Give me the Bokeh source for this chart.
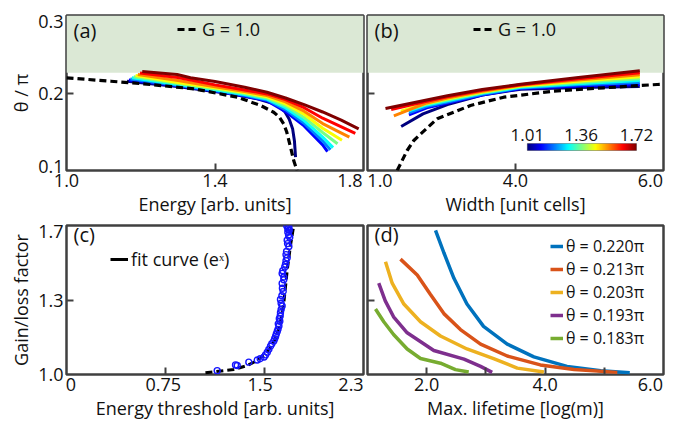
import numpy as np
from bokeh.plotting import figure
from bokeh.layouts import column, row
from bokeh.models import Range1d, FixedTicker, BoxAnnotation, Label, LinearColorMapper
from bokeh.core.properties import value
from bokeh.embed import file_html
from bokeh.resources import INLINE

# ---------------- data ----------------
G_LEVELS = [1.01, 1.10, 1.19, 1.28, 1.36, 1.45, 1.54, 1.63, 1.72]
G_MIN, G_MAX = 1.01, 1.72
CB_TICKS = [1.01, 1.36, 1.72]
BAND_MIN = 0.226  # theta/pi above which the region is shaded

# panel (a): theta/pi vs energy
A_G1_X = [1.0, 1.119, 1.208, 1.343, 1.46, 1.523, 1.558, 1.573, 1.585, 1.593, 1.599, 1.606,
          1.612, 1.621]
A_G1_Y = [0.2196, 0.2152, 0.2118, 0.2054, 0.1946, 0.1839, 0.1752, 0.1690, 0.1602, 0.1500,
          0.1387, 0.1250, 0.1129, 0.1]
A_X = [
    [1.163, 1.298, 1.433, 1.514, 1.550, 1.572, 1.588, 1.600, 1.609, 1.614, 1.617],
    [1.168, 1.30, 1.40, 1.48, 1.54, 1.59, 1.64, 1.69, 1.703],
    [1.172, 1.30, 1.40, 1.48, 1.54, 1.59, 1.64, 1.69, 1.711],
    [1.176, 1.30, 1.40, 1.48, 1.54, 1.59, 1.64, 1.69, 1.718],
    [1.181, 1.30, 1.40, 1.48, 1.54, 1.59, 1.64, 1.69, 1.730],
    [1.186, 1.30, 1.40, 1.48, 1.54, 1.59, 1.64, 1.69, 1.742],
    [1.192, 1.30, 1.40, 1.48, 1.54, 1.59, 1.64, 1.69, 1.762],
    [1.198, 1.30, 1.40, 1.48, 1.54, 1.59, 1.64, 1.69, 1.778],
    [1.204, 1.298, 1.334, 1.40, 1.48, 1.54, 1.59, 1.64, 1.69, 1.74, 1.787],
]
A_Y = [
    [0.2152, 0.2084, 0.1998, 0.1925, 0.1875, 0.1830, 0.1760, 0.1660, 0.1540, 0.1380, 0.1172],
    [0.2168, 0.2092, 0.2025, 0.1962, 0.1900, 0.1760, 0.1575, 0.1330, 0.1245],
    [0.2182, 0.2100, 0.2033, 0.1970, 0.1910, 0.1785, 0.1610, 0.1380, 0.1267],
    [0.2196, 0.2110, 0.2042, 0.1980, 0.1922, 0.1810, 0.1645, 0.1430, 0.1295],
    [0.2210, 0.2122, 0.2053, 0.1992, 0.1935, 0.1835, 0.1685, 0.1490, 0.1345],
    [0.2225, 0.2136, 0.2066, 0.2005, 0.1950, 0.1860, 0.1725, 0.1545, 0.1390],
    [0.2240, 0.2160, 0.2082, 0.2020, 0.1967, 0.1885, 0.1765, 0.1605, 0.1430],
    [0.2258, 0.2200, 0.2105, 0.2040, 0.1988, 0.1915, 0.1810, 0.1675, 0.1480],
    [0.2277, 0.2239, 0.2196, 0.2148, 0.2075, 0.2010, 0.1935, 0.1850, 0.1755, 0.1650, 0.1538],
]

# panel (b): theta/pi vs width
B_G1_X = [2.401, 2.536, 2.626, 2.716, 2.942, 3.392, 3.842, 4.518, 5.194, 5.915, 6.0]
B_G1_Y = [0.1, 0.1258, 0.1387, 0.147, 0.1667, 0.1839, 0.1946, 0.2024, 0.2067, 0.2110, 0.2112]
B_X = [
    [2.455, 2.75, 3.08, 3.55, 4.07, 4.85, 5.68],
    [2.56, 2.80, 3.08, 3.55, 4.07, 4.85, 5.68],
    [2.56, 2.80, 3.08, 3.55, 4.07, 4.85, 5.68],
    [2.56, 2.80, 3.08, 3.55, 4.07, 4.85, 5.68],
    [2.52, 2.80, 3.08, 3.55, 4.07, 4.85, 5.68],
    [2.45, 2.80, 3.08, 3.55, 4.07, 4.85, 5.68],
    [2.356, 2.80, 3.08, 3.55, 4.07, 4.85, 5.68],
    [2.32, 2.80, 3.08, 3.55, 4.07, 4.85, 5.68],
    [2.243, 2.80, 3.08, 3.55, 4.07, 4.85, 5.68],
]
B_Y = [
    [0.1568, 0.1730, 0.1850, 0.1975, 0.2049, 0.2072, 0.2084],
    [0.1719, 0.1808, 0.1870, 0.1975, 0.2058, 0.2090, 0.2110],
    [0.1745, 0.1828, 0.1885, 0.1985, 0.2066, 0.2105, 0.2135],
    [0.1770, 0.1846, 0.1900, 0.1995, 0.2075, 0.2120, 0.2160],
    [0.1775, 0.1858, 0.1912, 0.2004, 0.2083, 0.2136, 0.2185],
    [0.1765, 0.1868, 0.1925, 0.2014, 0.2091, 0.2152, 0.2210],
    [0.1706, 0.1872, 0.1935, 0.2023, 0.2099, 0.2168, 0.2235],
    [0.1785, 0.1892, 0.1950, 0.2034, 0.2106, 0.2184, 0.2260],
    [0.1800, 0.1910, 0.1964, 0.2045, 0.2114, 0.2200, 0.2286],
]

# panel (c): gain/loss factor vs energy threshold
C_PTS_X = [1.167, 1.309, 1.322, 1.412, 1.477, 1.50, 1.53, 1.541, 1.555, 1.567, 1.58, 1.59,
           1.605, 1.612, 1.619, 1.625, 1.632, 1.638, 1.645, 1.64, 1.652, 1.648, 1.655, 1.657,
           1.662, 1.67, 1.662, 1.657, 1.668, 1.678, 1.672, 1.67, 1.683, 1.683, 1.67, 1.675,
           1.69, 1.696, 1.70, 1.709, 1.70, 1.704, 1.722, 1.712, 1.709, 1.729, 1.72, 1.714,
           1.725, 1.714, 1.722, 1.706]
C_PTS_Y = [1.018, 1.045, 1.042, 1.058, 1.068, 1.074, 1.082, 1.092, 1.105, 1.118, 1.133, 1.145,
           1.157, 1.168, 1.179, 1.19, 1.202, 1.212, 1.228, 1.238, 1.25, 1.262, 1.275, 1.29,
           1.305, 1.322, 1.335, 1.352, 1.37, 1.39, 1.405, 1.428, 1.445, 1.458, 1.475, 1.488,
           1.505, 1.518, 1.535, 1.548, 1.563, 1.578, 1.601, 1.615, 1.631, 1.645, 1.654, 1.668,
           1.678, 1.684, 1.691, 1.698]
C_FIT_X = [1.076, 1.296, 1.40, 1.477, 1.53, 1.58, 1.615, 1.645, 1.665, 1.683, 1.709, 1.735, 1.76]
C_FIT_Y = [1.008, 1.024, 1.042, 1.066, 1.092, 1.126, 1.165, 1.217, 1.27, 1.337, 1.488, 1.608, 1.70]

# panel (d): gain/loss factor vs max. lifetime
D_LABELS = ["θ = 0.220π", "θ = 0.213π", "θ = 0.203π", "θ = 0.193π", "θ = 0.183π"]
D_COLORS = ["#0072BD", "#D95319", "#EDB120", "#7E2F8E", "#77AC30"]
D_X = [
    [2.149, 2.29, 2.46, 2.68, 2.96, 3.36, 3.81, 4.37, 4.94, 5.43],
    [1.557, 1.84, 2.064, 2.29, 2.57, 2.91, 3.36, 3.92, 4.49, 5.22],
    [1.304, 1.417, 1.614, 1.895, 2.233, 2.68, 3.13, 3.53, 3.98],
    [1.19, 1.30, 1.44, 1.67, 2.12, 2.63, 2.91, 3.106],
    [1.135, 1.275, 1.44, 1.67, 1.895, 2.233, 2.486, 2.71],
]
D_Y = [
    [1.677, 1.572, 1.452, 1.331, 1.226, 1.143, 1.083, 1.038, 1.018, 1.008],
    [1.542, 1.467, 1.376, 1.286, 1.211, 1.143, 1.087, 1.045, 1.023, 1.010],
    [1.530, 1.429, 1.331, 1.248, 1.181, 1.120, 1.075, 1.030, 1.012],
    [1.429, 1.346, 1.271, 1.196, 1.113, 1.072, 1.038, 1.010],
    [1.308, 1.248, 1.188, 1.120, 1.075, 1.053, 1.023, 1.012],
]

# axis ticks / labels
A_XTICKS, A_XLABELS = [1.0, 1.4, 1.8], ["1.0", "1.4", "1.8"]
AB_YTICKS, AB_YLABELS = [0.1, 0.2, 0.3], ["0.1", "0.2", "0.3"]
B_XTICKS, B_XLABELS = [2.0, 4.0, 6.0], ["1.0", "4.0", "6.0"]
C_XTICKS, C_XLABELS = [0.0, 0.75, 1.5, 2.3], ["0", "0.75", "1.5", "2.3"]
C_XMARKS = [0.767, 1.533]
CD_YTICKS, CD_YLABELS = [1.0, 1.35, 1.7], ["1.0", "1.3", "1.7"]
D_XTICKS, D_XLABELS = [2.0, 4.0, 6.0], ["2.0", "4.0", "6.0"]
D_XMARKS = [2.0, 3.0, 4.0, 5.0]

# ---------------- style ----------------
FONT = "Open Sans"
FRAME = "#404040"
TXT = "#111111"
BAND = "#dbe8d5"
FW, FH = 296, 155  # frame size in px


def jet(t):
    t = min(max(t, 0.0), 1.0)
    r = min(max(1.5 - abs(4 * t - 3), 0), 1)
    g = min(max(1.5 - abs(4 * t - 2), 0), 1)
    b = min(max(1.5 - abs(4 * t - 1), 0), 1)
    return "#%02x%02x%02x" % (int(r * 255), int(g * 255), int(b * 255))


JET = [jet(i / 255) for i in range(256)]


def gcolor(g):
    return jet((g - G_MIN) / (G_MAX - G_MIN))


def make_fig(xr, yr, width, height, left, right, top, bottom):
    p = figure(width=width, height=height, x_range=Range1d(*xr), y_range=Range1d(*yr),
               output_backend="svg", toolbar_location=None,
               min_border_left=left, min_border_right=right,
               min_border_top=top, min_border_bottom=bottom)
    p.grid.visible = False
    p.outline_line_color = FRAME
    p.outline_line_width = 2.5
    p.outline_line_alpha = 1.0
    p.background_fill_color = "white"
    p.border_fill_color = "white"
    return p


def style_axis(ax, rng, ticks, labels, shifts_px, marks, title=None, frame_px=FW):
    scale = (rng[1] - rng[0]) / frame_px
    pos = [round(t + s * scale, 6) for t, s in zip(ticks, shifts_px)]
    ax.ticker = FixedTicker(ticks=pos, minor_ticks=marks)
    ax.major_label_overrides = dict(zip(pos, labels))
    ax.major_tick_in = 0
    ax.major_tick_out = 0
    ax.minor_tick_in = 7
    ax.minor_tick_out = 0
    ax.minor_tick_line_color = FRAME
    ax.minor_tick_line_width = 2
    ax.axis_line_color = None
    ax.major_label_text_font = FONT
    ax.major_label_text_font_size = "18px"
    ax.major_label_text_color = TXT
    ax.major_label_standoff = 3 if labels else 0
    if title:
        ax.axis_label = title
        ax.axis_label_text_font = FONT
        ax.axis_label_text_font_size = "18px"
        ax.axis_label_text_font_style = "normal"
        ax.axis_label_text_color = TXT
        ax.axis_label_standoff = 2


def tag(p, text):
    p.add_layout(Label(x=7, y=FH - 15, x_units="screen", y_units="screen", text=text,
                       text_font=FONT, text_font_size="20px", text_color=TXT,
                       text_baseline="middle"))


def style_legend(p, loc, size, gw, gh=20, spacing=0):
    leg = p.legend[0]
    leg.location = loc
    leg.padding = 0
    leg.margin = 0
    leg.spacing = spacing
    leg.border_line_color = None
    leg.background_fill_alpha = 0
    leg.glyph_width = gw
    leg.glyph_height = gh
    leg.label_height = gh
    leg.label_standoff = 3
    leg.label_text_font = FONT
    leg.label_text_font_size = size
    leg.label_text_color = TXT


# page offset: Bokeh's page has no body margin, so reserve it in the borders
OFF = 8

# ---------------- (a) ----------------
AXR, AYR = (1.0, 1.8), (0.1, 0.3)
pa = make_fig(AXR, AYR, 357 + OFF, 210 + OFF, 58 + OFF, 2, 7 + OFF, 48)
pa.add_layout(BoxAnnotation(bottom=BAND_MIN, fill_color=BAND, fill_alpha=1.0,
                            line_alpha=0, level="underlay"))
for g, xs, ys in zip(G_LEVELS, A_X, A_Y):
    pa.line(xs, ys, line_color=gcolor(g), line_width=3)
pa.line(A_G1_X, A_G1_Y, line_color="black", line_width=3.2, line_dash="7 4",
        legend_label="G = 1.0")
style_axis(pa.xaxis[0], AXR, A_XTICKS, A_XLABELS, [0, 0, -13.5], [1.4],
           "Energy [arb. units]", FW + 1)
style_axis(pa.yaxis[0], AYR, AB_YTICKS, AB_YLABELS, [4, 0, -6], [0.2], "θ / π", FH)
style_legend(pa, (111, 129), "18px", 22)
tag(pa, "(a)")

# ---------------- (b) ----------------
BXR = (2.0, 6.0)
pb = make_fig(BXR, AYR, 313, 210 + OFF, 2, 15, 7 + OFF, 48)
pb.add_layout(BoxAnnotation(bottom=BAND_MIN, fill_color=BAND, fill_alpha=1.0,
                            line_alpha=0, level="underlay"))
for g, xs, ys in zip(G_LEVELS, B_X, B_Y):
    pb.line(xs, ys, line_color=gcolor(g), line_width=3)
pb.line(B_G1_X, B_G1_Y, line_color="black", line_width=3.2, line_dash="7 4",
        legend_label="G = 1.0")
style_axis(pb.xaxis[0], BXR, B_XTICKS, B_XLABELS, [12.5, 0, -13], [4.0],
           "Width [unit cells]")
style_axis(pb.yaxis[0], AYR, [], [], [], [0.2], None, FH)
style_legend(pb, (106, 129), "18px", 22)
tag(pb, "(b)")
# colour bar (inside panel b)
CB_X0, CB_W, CB_Y0, CB_H = 4.16, 1.475, 0.1258, 0.009
cmap = LinearColorMapper(palette=JET, low=G_MIN, high=G_MAX)
grad = np.linspace(G_MIN, G_MAX, 256).reshape(1, 256)
pb.image(image=[grad], x=CB_X0, y=CB_Y0, dw=CB_W, dh=CB_H, color_mapper=cmap)
pb.add_layout(BoxAnnotation(left=CB_X0, right=CB_X0 + CB_W, bottom=CB_Y0, top=CB_Y0 + CB_H,
                            fill_alpha=0, line_color="black", line_width=1))
cb_lx = [CB_X0 + (g - G_MIN) / (G_MAX - G_MIN) * CB_W for g in CB_TICKS]
pb.text(x=cb_lx, y=[CB_Y0 + CB_H + 0.0035] * len(CB_TICKS),
        text=["%.2f" % g for g in CB_TICKS], text_font=value(FONT), text_font_size="17px",
        text_color=TXT, text_align="center", text_baseline="bottom")

# ---------------- (c) ----------------
CXR, CYR = (0.0, 2.3), (1.0, 1.7)
pc = make_fig(CXR, CYR, 357 + OFF, 204, 58 + OFF, 2, 7, 42)
pc.line(C_FIT_X, C_FIT_Y, line_color="black", line_width=3, line_dash="7 4")
pc.scatter(C_PTS_X, C_PTS_Y, marker="circle", size=6, fill_alpha=0,
           line_color="#1515ff", line_width=1.4)
pc.line(x=[np.nan], y=[np.nan], line_color="black", line_width=3,
        legend_label="fit curve (eˣ)")
style_axis(pc.xaxis[0], CXR, C_XTICKS, C_XLABELS, [4.5, 0, 0, -12.5], C_XMARKS,
           "Energy threshold [arb. units]", FW + 1)
style_axis(pc.yaxis[0], CYR, CD_YTICKS, CD_YLABELS, [0, 0, -6], [1.35],
           "Gain/loss factor", FH)
style_legend(pc, (44, 103), "18px", 18)
tag(pc, "(c)")

# ---------------- (d) ----------------
DXR = (1.0, 6.0)
pd_ = make_fig(DXR, CYR, 313, 204, 2, 15, 7, 42)
for lab, col, xs, ys in zip(D_LABELS, D_COLORS, D_X, D_Y):
    pd_.line(xs, ys, line_color=col, line_width=3.5, legend_label=lab)
style_axis(pd_.xaxis[0], DXR, D_XTICKS, D_XLABELS, [0, 0, -13], D_XMARKS,
           "Max. lifetime [log(m)]")
style_axis(pd_.yaxis[0], CYR, [], [], [], [1.35], None, FH)
style_legend(pd_, (183, 25), "16px", 13, gh=20, spacing=1)
tag(pd_, "(d)")

layout = column(row(pa, pb), row(pc, pd_))
open("out.html", "w").write(file_html(layout, INLINE))
